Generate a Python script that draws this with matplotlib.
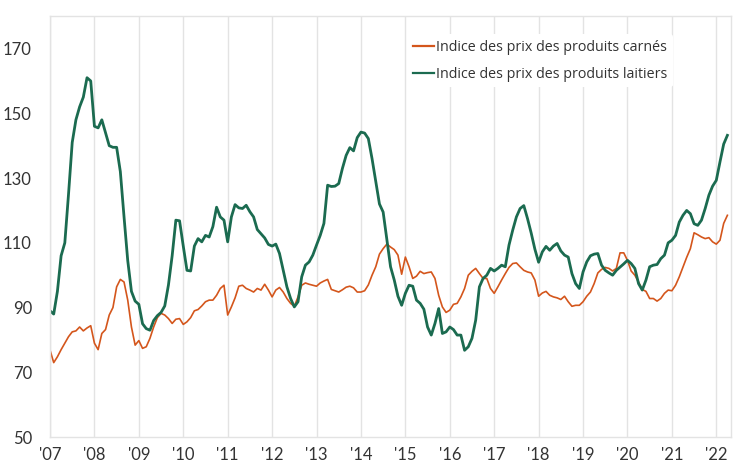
import matplotlib
matplotlib.use('Agg')
import matplotlib.pyplot as plt
import numpy as np

# monthly indices, Jan 2007 .. Apr 2022
start_year = 2007
meat = [76.9, 73.0, 74.8, 77.0, 79.0, 81.0, 82.5, 82.8, 84.0, 82.8, 83.7, 84.4,
        79.0, 77.0, 82.0, 83.2, 87.7, 90.0, 96.4, 98.7, 97.9, 92.3, 84.0, 78.4,
        79.8, 77.4, 77.9, 80.5, 84.0, 86.9, 88.2, 87.7, 86.6, 85.1, 86.4, 86.6,
        84.8, 85.6, 86.9, 89.0, 89.4, 90.5, 91.8, 92.3, 92.3, 93.8, 95.9, 96.9,
        87.7, 90.2, 93.0, 96.6, 96.9, 95.9, 95.4, 94.8, 95.9, 95.4, 97.2, 95.4,
        93.3, 95.4, 96.2, 94.8, 92.8, 91.3, 90.4, 93.3, 96.9, 97.6, 97.2, 96.9,
        96.6, 97.6, 98.2, 98.7, 95.6, 95.2, 94.8, 95.5, 96.3, 96.6, 96.1, 94.8,
        94.8, 95.2, 97.0, 100.0, 102.6, 106.5, 108.2, 109.6, 108.7, 107.9, 106.2, 100.3,
        105.6, 102.6, 99.0, 99.7, 101.2, 100.5, 100.8, 101.0, 99.0, 93.8, 90.2, 88.5,
        89.2, 91.0, 91.3, 93.3, 95.9, 100.0, 101.2, 102.1, 100.5, 99.0, 99.0, 95.9,
        94.4, 96.4, 98.5, 100.5, 102.4, 103.6, 103.8, 102.6, 101.5, 101.0, 100.7, 98.5,
        93.5, 94.5, 95.0, 93.8, 93.3, 93.0, 92.5, 93.5, 91.8, 90.4, 90.7, 90.7,
        91.8, 93.5, 94.8, 97.4, 100.7, 101.8, 102.4, 102.1, 101.3, 102.1, 106.9, 106.9,
        104.6, 101.3, 100.0, 97.9, 95.6, 95.0, 92.8, 92.8, 92.0, 92.8, 94.4, 95.4,
        95.2, 96.9, 99.5, 102.5, 105.5, 108.2, 113.1, 112.5, 111.8, 111.3, 111.6, 110.3,
        109.6, 110.8, 116.0, 118.5]
dairy = [89.0, 88.0, 95.0, 106.0, 110.0, 125.0, 141.0, 148.0, 152.0, 155.0, 161.0, 160.0,
         146.0, 145.5, 148.0, 144.0, 140.0, 139.5, 139.5, 132.0, 118.0, 104.5, 95.0, 92.0,
         91.0, 85.0, 83.5, 83.0, 86.0, 87.5, 88.5, 90.5, 97.0, 106.0, 117.0, 116.8,
         109.0, 101.5, 101.3, 109.0, 111.3, 110.3, 112.3, 111.8, 115.0, 121.0, 118.0, 117.0,
         110.3, 118.0, 121.8, 120.8, 120.6, 121.6, 119.6, 118.0, 114.1, 112.8, 111.5, 109.5,
         109.0, 109.6, 106.7, 101.5, 96.4, 92.8, 90.2, 91.8, 99.5, 103.1, 104.1, 106.2,
         109.3, 112.3, 116.0, 127.8, 127.4, 127.5, 128.3, 133.0, 137.0, 139.4, 138.4, 142.5,
         144.2, 143.9, 142.2, 136.0, 129.0, 122.0, 119.5, 111.0, 102.6, 98.5, 93.5, 90.7,
         94.4, 96.9, 96.6, 92.3, 91.3, 89.5, 84.0, 81.5, 85.1, 89.7, 82.0, 82.5,
         84.0, 83.2, 81.5, 81.5, 76.8, 77.9, 80.5, 86.1, 96.4, 99.0, 100.0, 102.1,
         101.3, 102.1, 103.1, 102.6, 109.3, 113.9, 118.0, 120.6, 121.5, 117.5, 113.0, 108.0,
         104.0, 107.2, 108.9, 107.7, 109.0, 109.8, 107.5, 106.2, 105.6, 100.5, 97.4, 95.9,
         101.0, 104.1, 106.0, 106.5, 106.7, 103.1, 101.5, 100.7, 100.0, 101.5, 102.5, 103.5,
         104.6, 103.6, 102.1, 97.4, 95.4, 98.5, 102.6, 103.1, 103.3, 105.1, 106.2, 110.0,
         110.8, 112.3, 116.4, 118.5, 120.0, 119.0, 115.9, 115.4, 117.0, 120.6, 124.7, 127.5,
         129.3, 135.0, 140.5, 143.2]
years = list(range(2007, 2023))
year_labels = ["'%02d" % (y % 100) for y in years]
yticks = [50, 70, 90, 110, 130, 150, 170]

ORANGE = '#d4561c'
GREEN = '#1b6b50'
GRID = '#e3e3e3'

plt.rcParams['font.family'] = ['Lato', 'DejaVu Sans']

t = start_year + np.arange(len(meat)) / 12.0

fig = plt.figure(figsize=(7.52, 4.63), dpi=100)
ax = fig.add_axes([0.0665, 0.056, 0.9055, 0.909])

ax.plot(t, meat, color=ORANGE, linewidth=1.2, label='Indice des prix des produits carnés')
ax.plot(t, dairy, color=GREEN, linewidth=2.0, label='Indice des prix des produits laitiers')

ax.set_xlim(2007, 2022.33)
ax.set_ylim(50, 180)
ax.set_xticks(years)
ax.set_xticklabels(year_labels)
ax.set_yticks(yticks)
ax.grid(axis='x', color=GRID, linewidth=1.0)
ax.set_axisbelow(True)
for s in ax.spines.values():
    s.set_color(GRID)
    s.set_linewidth(1.0)
ax.tick_params(length=0, labelsize=12, colors='#333333')
ax.tick_params(axis='y', pad=13)
ax.tick_params(axis='x', pad=7)

leg = ax.legend(loc='upper left', bbox_to_anchor=(0.514, 0.975),
                prop={'family': ['Open Sans', 'DejaVu Sans'], 'size': 10.3},
                frameon=True, facecolor='white', edgecolor='none', framealpha=1,
                handlelength=1.5, handletextpad=0.1, labelspacing=0.85, borderpad=0.4)
for text in leg.get_texts():
    text.set_color('#333333')
for line in leg.get_lines():
    line.set_linewidth(1.6)

fig.savefig('out.png', dpi=100)
